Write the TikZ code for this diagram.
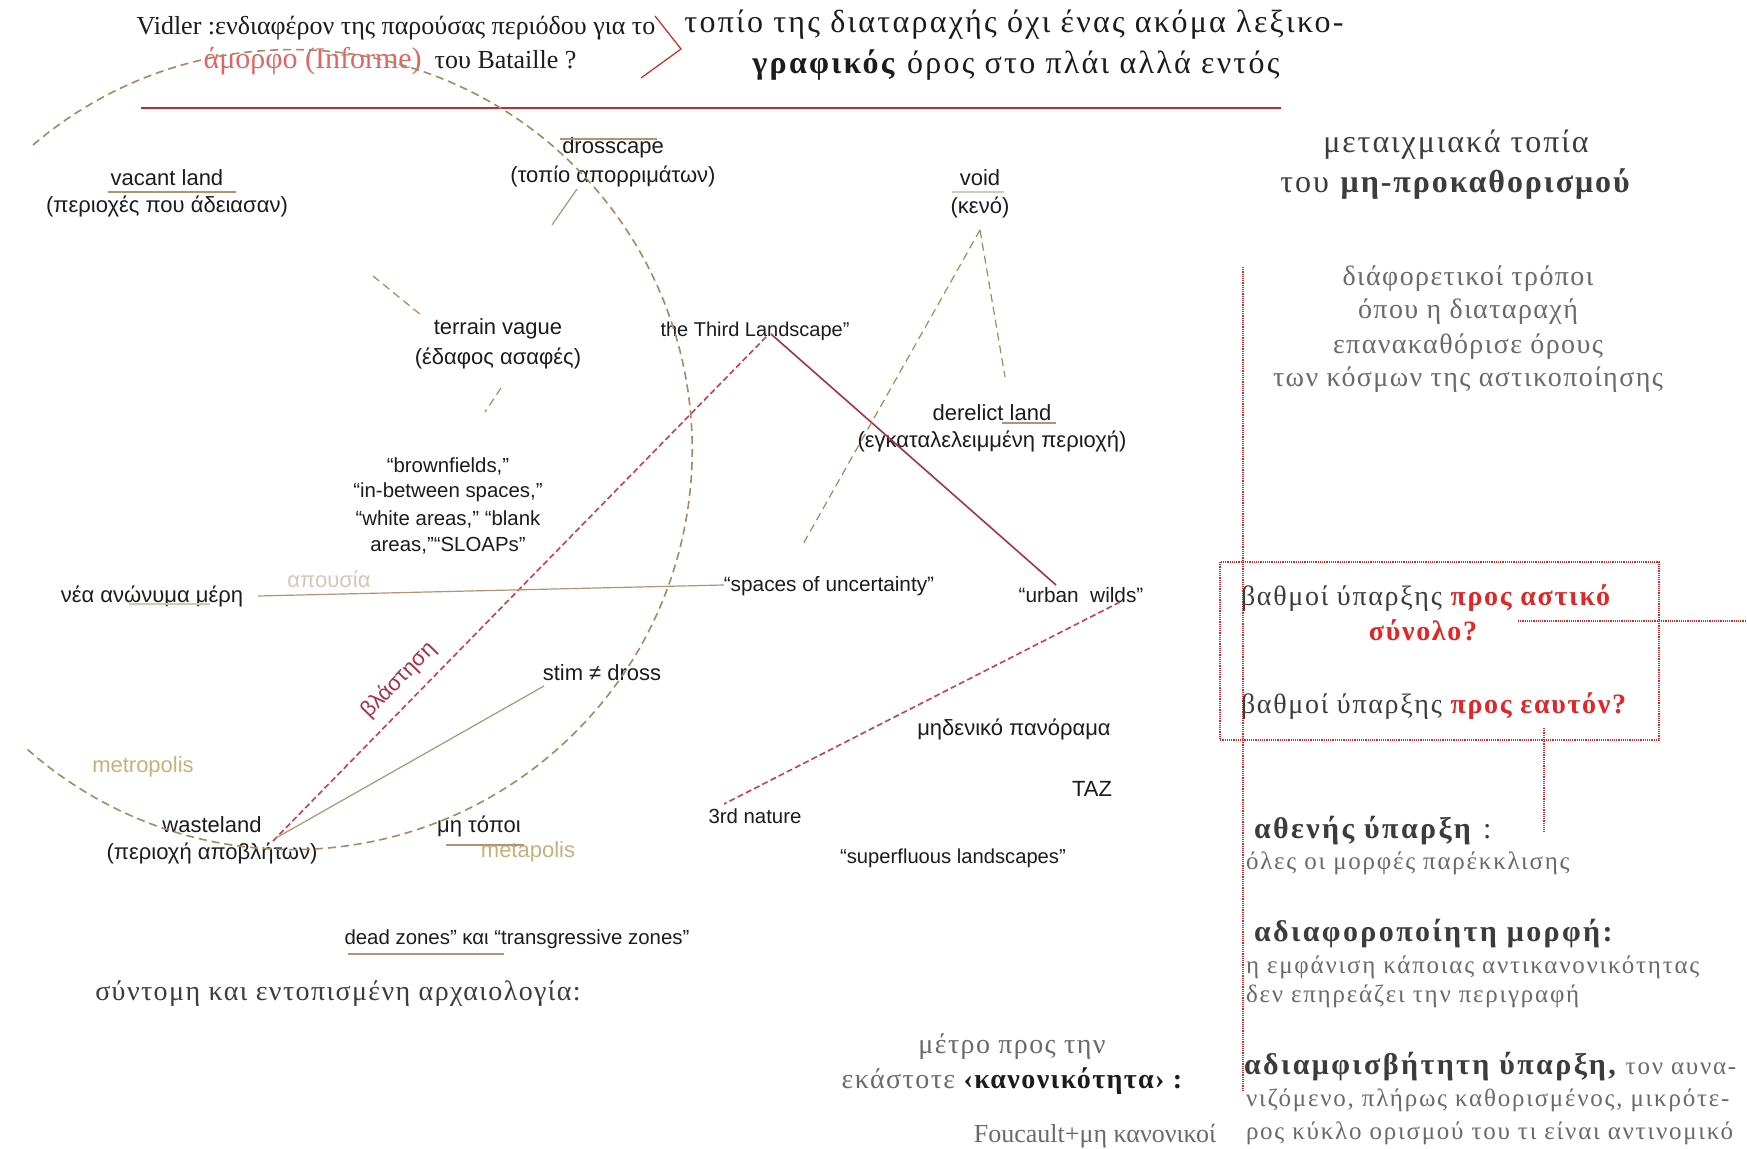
\documentclass[tikz,border=0pt]{standalone}
\usepackage{fontspec}
\setmainfont{Liberation Serif}
\newfontfamily\sa{Liberation Sans}
\newfontfamily\gfive[LetterSpace=5]{Liberation Serif}
\newfontfamily\gsix[LetterSpace=6]{Liberation Serif}
\newfontfamily\gseven[LetterSpace=7]{Liberation Serif}
\newfontfamily\geight[LetterSpace=8]{Liberation Serif}
\definecolor{ink}{HTML}{1C1C1C}
\definecolor{arcc}{HTML}{A8885F}
\definecolor{brc}{HTML}{B39374}
\definecolor{tanc}{HTML}{C8B07C}
\definecolor{apc}{HTML}{D8C6B4}
\definecolor{dred}{HTML}{A83048}
\definecolor{lred}{HTML}{C84050}
\definecolor{tred}{HTML}{D42424}
\definecolor{qred}{HTML}{E02626}
\definecolor{pinkr}{HTML}{E06666}
\definecolor{gA}{HTML}{3C3C3C}
\definecolor{gB}{HTML}{6A6A6A}
\begin{document}
\begin{tikzpicture}[x=0.5pt,y=-0.5pt,
  every node/.style={inner sep=0pt,outer sep=0pt},
  sans/.style={font=\sa\fontsize{11}{13}\selectfont,text=ink},
  sanss/.style={font=\sa\fontsize{10.2}{12}\selectfont,text=ink},
  tan/.style={font=\sa\fontsize{11}{13}\selectfont,text=tanc},
  vid/.style={font=\fontsize{13}{15}\selectfont,text=ink},
  titl/.style={font=\gseven\fontsize{16}{18}\selectfont,text=ink},
  rh/.style={font=\gsix\fontsize{16}{18}\selectfont,text=gA},
  rg/.style={font=\gfive\fontsize{14}{16}\selectfont,text=gB},
  qq/.style={font=\gsix\fontsize{14}{16}\selectfont,text=gA,anchor=west},
  bh/.style={font=\geight\fontsize{15}{17}\selectfont\bfseries,text=gA,anchor=west},
  bt/.style={font=\gseven\fontsize{12.5}{14}\selectfont,text=gB,anchor=west},
  arcline/.style={draw=arcc,line width=0.8pt,dash pattern=on 4pt off 2.5pt},
  brline/.style={draw=brc,line width=0.6pt},
  brdash/.style={draw=arcc,line width=0.6pt,dash pattern=on 4pt off 2.5pt},
  redsolid/.style={draw=dred,line width=0.8pt},
  reddash/.style={draw=lred,line width=0.8pt,dash pattern=on 3pt off 1.6pt},
  reddot/.style={draw=qred,line width=0.6pt,dash pattern=on 0.6pt off 0.5pt},
]
\fill[white] (0,0) rectangle (1747,1149);
\useasboundingbox (0,0) rectangle (1747,1149);

% ---------- top ----------
\node[vid] (vid1) at (396,28) {Vidler :ενδιαφέρον της παρούσας περιόδου για το};
\node[vid] (vid2) at (390,61) {\textcolor{pinkr}{\fontsize{15}{17}\selectfont άμορφο (Informe)}\ \ του Bataille ?};
\draw[tred,line width=0.6pt] (655,16) -- (681,49) -- (641,78);
\node[titl] (t1) at (1014,25) {τοπίο της διαταραχής όχι ένας ακόμα λεξικο-};
\node[titl] (t2) at (1016,65) {\textbf{γραφικός} όρος στο πλάι αλλά εντός};
\draw[tred,line width=0.8pt] (141,108) -- (1281,108);

% ---------- right column ----------
\node[rh] (r1) at (1456,145) {μεταιχμιακά τοπία};
\node[rh] (r2) at (1456,184) {του \textbf{μη-προκαθορισμού}};
\node[rg] (r3) at (1468,279) {διάφορετικοί τρόποι};
\node[rg] (r4) at (1468,312) {όπου η διαταραχή};
\node[rg] (r5) at (1468,347) {επανακαθόρισε όρους};
\node[rg] (r6) at (1468,380) {των κόσμων της αστικοποίησης};

\draw[reddot] (1243,267) -- (1243,1090);
\draw[reddot] (1220,562) rectangle (1659,740);
\node[qq] (q1) at (1241,598) {βαθμοί ύπαρξης \textcolor{qred}{\bfseries προς αστικό}};
\node[qq,anchor=center,text=qred,font=\gsix\fontsize{14}{16}\selectfont\bfseries] (q1b) at (1423,630) {σύνολο?};
\node[qq] (q2) at (1241,706) {βαθμοί ύπαρξης \textcolor{qred}{\bfseries προς εαυτόν?}};
\coordinate (hq) at (1747,621);
\draw[reddot] (1518,621) -- (hq);
\coordinate (vq) at (1544,832);
\draw[reddot] (1544,728) -- (vq);

\node[bh] (b1) at (1254,831) {αθενής ύπαρξη \textmd{:}};
\node[bt] (b2) at (1246,863) {όλες οι μορφές παρέκκλισης};
\node[bh] (b3) at (1254,934) {αδιαφοροποίητη μορφή:};
\node[bt] (b4) at (1246,967) {η εμφάνιση κάποιας αντικανονικότητας};
\node[bt] (b5) at (1246,996) {δεν επηρεάζει την περιγραφή};
\node[bh] (b6) at (1244,1067) {αδιαμφισβήτητη ύπαρξη, {\mdseries\gseven\fontsize{12.5}{14}\selectfont\color{gB}τον αυνα-}};
\node[bt] (b7) at (1246,1100) {νιζόμενο, πλήρως καθορισμένος, μικρότε-};
\node[bt] (b8) at (1246,1133) {ρος κύκλο ορισμού του τι είναι αντινομικό};

% ---------- bottom centre / left ----------
\node[rg] (m1) at (1012,1047) {μέτρο προς την};
\node[rg] (m2) at (1012,1081) {εκάστοτε \textcolor{ink}{\bfseries ‹κανονικότητα› :}};
\node[vid,text=gB] (fou) at (1095,1136) {Foucault+μη κανονικοί};
\node[rg,text=gA] (arch) at (338,994) {σύντομη και εντοπισμένη αρχαιολογία:};
\node[sanss] (dead) at (517,939) {dead zones” και “transgressive zones”};
\draw[brline] (348,954) -- (504,954);

% ---------- diagram nodes ----------
\node[sans] (vac) at (167,178) {vacant land};
\node[sans] (vacg) at (167,207) {(περιοχές που άδειασαν)};
\draw[brline] (108,192) -- (236,192);
\node[sans] (dro) at (613,148) {drosscape};
\node[sans] (drog) at (613,177) {(τοπίο απορριμάτων)};
\draw[brline] (560,139) -- (657,139);
\node[sans] (void) at (980,178) {void};
\node[sans] (voidg) at (980,207) {(κενό)};
\draw[brline,draw=apc] (952,192) -- (1004,192);
\node[sans] (ter) at (498,329) {terrain vague};
\node[sans] (terg) at (498,358) {(έδαφος ασαφές)};
\node[sanss,font=\sa\fontsize{10}{12}\selectfont] (third) at (755,331) {the Third Landscape”};
\node[sans] (der) at (992,413) {derelict land};
\node[sans] (derg) at (992,442) {(εγκαταλελειμμένη περιοχή)};
\draw[brline] (1002,423) -- (1056,423);
\node[sanss] (bf1) at (448,466) {“brownfields,”};
\node[sanss] (bf2) at (448,492) {“in-between spaces,”};
\node[sanss] (bf3) at (448,519) {“white areas,” “blank};
\node[sanss] (bf4) at (448,546) {areas,”“SLOAPs”};
\node[sans] (nea) at (152,596) {νέα ανώνυμα μέρη};
\draw[brline,draw=apc] (129,604) -- (210,604);
\node[sans,text=apc] (apo) at (329,579) {απουσία};
\node[sanss,font=\sa\fontsize{10.4}{12}\selectfont] (spc) at (829,586) {“spaces of uncertainty”};
\node[sanss,font=\sa\fontsize{10.4}{12}\selectfont] (urb) at (1081,595) {“urban\ \ wilds”};
\node[sans] (stim) at (602,673) {stim ≠ dross};
\node[sans] (mid) at (1014,729) {μηδενικό πανόραμα};
\node[sans] (taz) at (1092,789) {TAZ};
\node[sanss] (tn) at (755,816) {3rd nature};
\node[sanss,font=\sa\fontsize{10.1}{12}\selectfont] (sup) at (953,858) {“superfluous landscapes”};
\node[tan] (metro) at (143,767) {metropolis};
\node[sans] (was) at (212,825) {wasteland};
\node[sans] (wasg) at (212,853) {(περιοχή αποβλήτων)};
\node[sans] (mtp) at (479,826) {μη τόποι};
\node[tan] (meta) at (528,852) {metapolis};
\draw[brline] (446,845) -- (524,845);

% ---------- connectors ----------
\coordinate (thA) at (771,334);
\coordinate (thB) at (767,336);
\coordinate (urA) at (1056,585);
\coordinate (urB) at (1120,602);
\coordinate (waA) at (273,841);
\coordinate (waB) at (276,838);
\coordinate (tnA) at (724,804);
\coordinate (stA) at (544,686);
\coordinate (neA) at (258,596);
\coordinate (spA) at (724,585);
\coordinate (voA) at (980,230);
\coordinate (voB) at (802,546);
\coordinate (voC) at (1005,377);
\draw[redsolid] (thA) -- (urA);
\draw[reddash] (waA) -- node[pos=0.287,above=6pt,sloped,font=\sa\fontsize{11}{13}\selectfont,text=dred] (vla) {βλάστηση} (thB);
\draw[reddash] (urB) -- (tnA);
\draw[brline] (stA) -- (waB);
\draw[brline] (neA) -- (spA);
\draw[brdash] (voA) -- (voB);
\draw[brdash] (voA) -- (voC);
\draw[brline] (577,189) -- (552,225);
\draw[brdash] (373,276) -- (421,315);
\draw[brdash] (501,388) -- (485,412);

% big dashed arc
\draw[arcline] (33,145) arc[start angle=130.4,end angle=-131.5,radius=200pt];
\end{tikzpicture}
\end{document}
